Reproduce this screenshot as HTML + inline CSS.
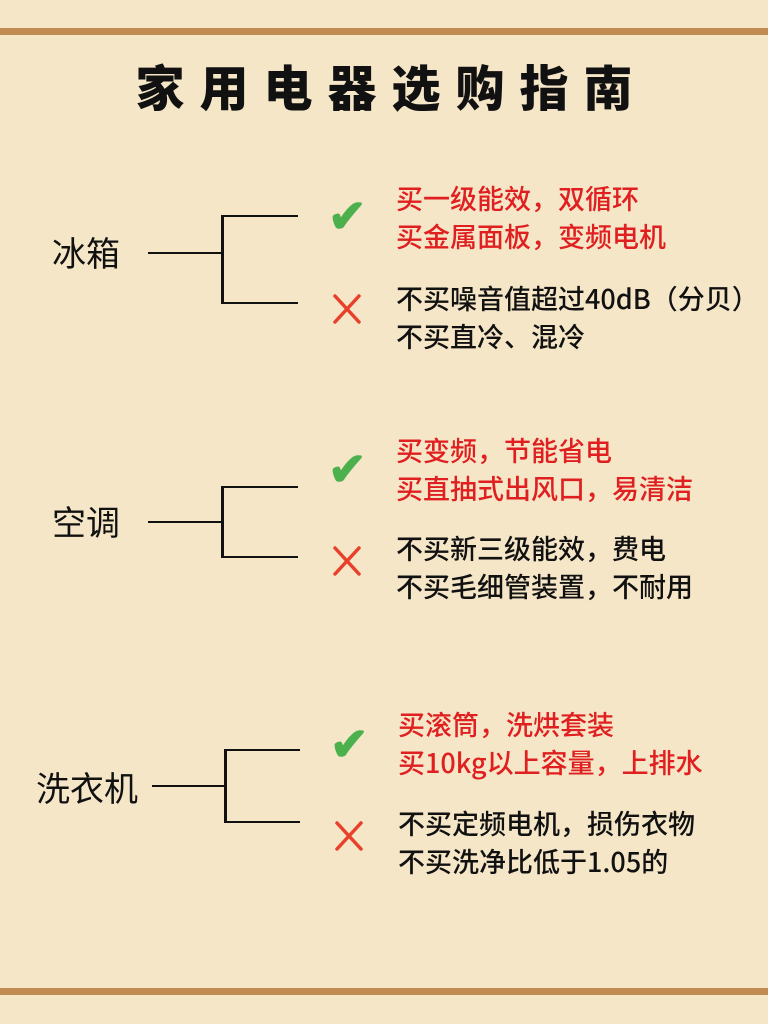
<!DOCTYPE html>
<html><head><meta charset="utf-8"><style>
body{margin:0;width:768px;height:1024px;background:#f5e6c8;position:relative;overflow:hidden;font-family:"Noto Sans CJK SC","Liberation Sans",sans-serif;}
.bar{position:absolute;left:0;width:768px;height:7px;background:#c08a50;}
.t{position:absolute;white-space:nowrap;line-height:1;}
.title{left:0;width:768px;text-align:center;top:61px;font-size:49px;font-weight:900;letter-spacing:15px;text-indent:15px;color:#111;}
.cat{font-size:34px;color:#111;}
.r{color:#e02020;font-size:27px;font-weight:500;}
.k{color:#111;font-size:27px;font-weight:500;}
.l{position:absolute;background:#111;}
.ck{position:absolute;color:#4cb04c;font-size:46px;font-weight:bold;line-height:1;}
.x{position:absolute;width:30px;height:32px;}
</style></head><body>
<div class="bar" style="top:28px"></div>
<div class="bar" style="top:988px"></div>
<div class="t title">家用电器选购指南</div>

<div class="t cat" style="left:52px;top:235px">冰箱</div>
<div class="l" style="left:148px;top:252px;width:75px;height:2px"></div>
<div class="l" style="left:221px;top:215px;width:3px;height:89px"></div>
<div class="l" style="left:221px;top:215px;width:77px;height:2px"></div>
<div class="l" style="left:221px;top:302px;width:77px;height:2px"></div>
<div class="ck" style="left:328px;top:190px">✔</div>
<svg class="x" style="left:332px;top:293px" viewBox="0 0 30 32"><path d="M3 3 L27 29 M27 3 L3 29" stroke="#e8402a" stroke-width="3.5" stroke-linecap="round" fill="none"/></svg>
<div class="t r" style="left:396px;top:184px">买一级能效，双循环</div>
<div class="t r" style="left:396px;top:222px">买金属面板，变频电机</div>
<div class="t k" style="left:396px;top:284px">不买噪音值超过40dB（分贝）</div>
<div class="t k" style="left:396px;top:322px">不买直冷、混冷</div>

<div class="t cat" style="left:52px;top:504px">空调</div>
<div class="l" style="left:148px;top:521px;width:75px;height:2px"></div>
<div class="l" style="left:221px;top:486px;width:3px;height:72px"></div>
<div class="l" style="left:221px;top:486px;width:77px;height:2px"></div>
<div class="l" style="left:221px;top:556px;width:77px;height:2px"></div>
<div class="ck" style="left:328px;top:443px">✔</div>
<svg class="x" style="left:332px;top:545px" viewBox="0 0 30 32"><path d="M3 3 L27 29 M27 3 L3 29" stroke="#e8402a" stroke-width="3.5" stroke-linecap="round" fill="none"/></svg>
<div class="t r" style="left:396px;top:436px">买变频，节能省电</div>
<div class="t r" style="left:396px;top:474px">买直抽式出风口，易清洁</div>
<div class="t k" style="left:396px;top:534px">不买新三级能效，费电</div>
<div class="t k" style="left:396px;top:572px">不买毛细管装置，不耐用</div>

<div class="t cat" style="left:36px;top:770px">洗衣机</div>
<div class="l" style="left:152px;top:785px;width:75px;height:2px"></div>
<div class="l" style="left:224px;top:749px;width:3px;height:74px"></div>
<div class="l" style="left:224px;top:749px;width:76px;height:2px"></div>
<div class="l" style="left:224px;top:821px;width:76px;height:2px"></div>
<div class="ck" style="left:330px;top:718px">✔</div>
<svg class="x" style="left:334px;top:820px" viewBox="0 0 30 32"><path d="M3 3 L27 29 M27 3 L3 29" stroke="#e8402a" stroke-width="3.5" stroke-linecap="round" fill="none"/></svg>
<div class="t r" style="left:398px;top:710px">买滚筒，洗烘套装</div>
<div class="t r" style="left:398px;top:748px">买10kg以上容量，上排水</div>
<div class="t k" style="left:398px;top:809px">不买定频电机，损伤衣物</div>
<div class="t k" style="left:398px;top:847px">不买洗净比低于1.05的</div>
</body></html>
